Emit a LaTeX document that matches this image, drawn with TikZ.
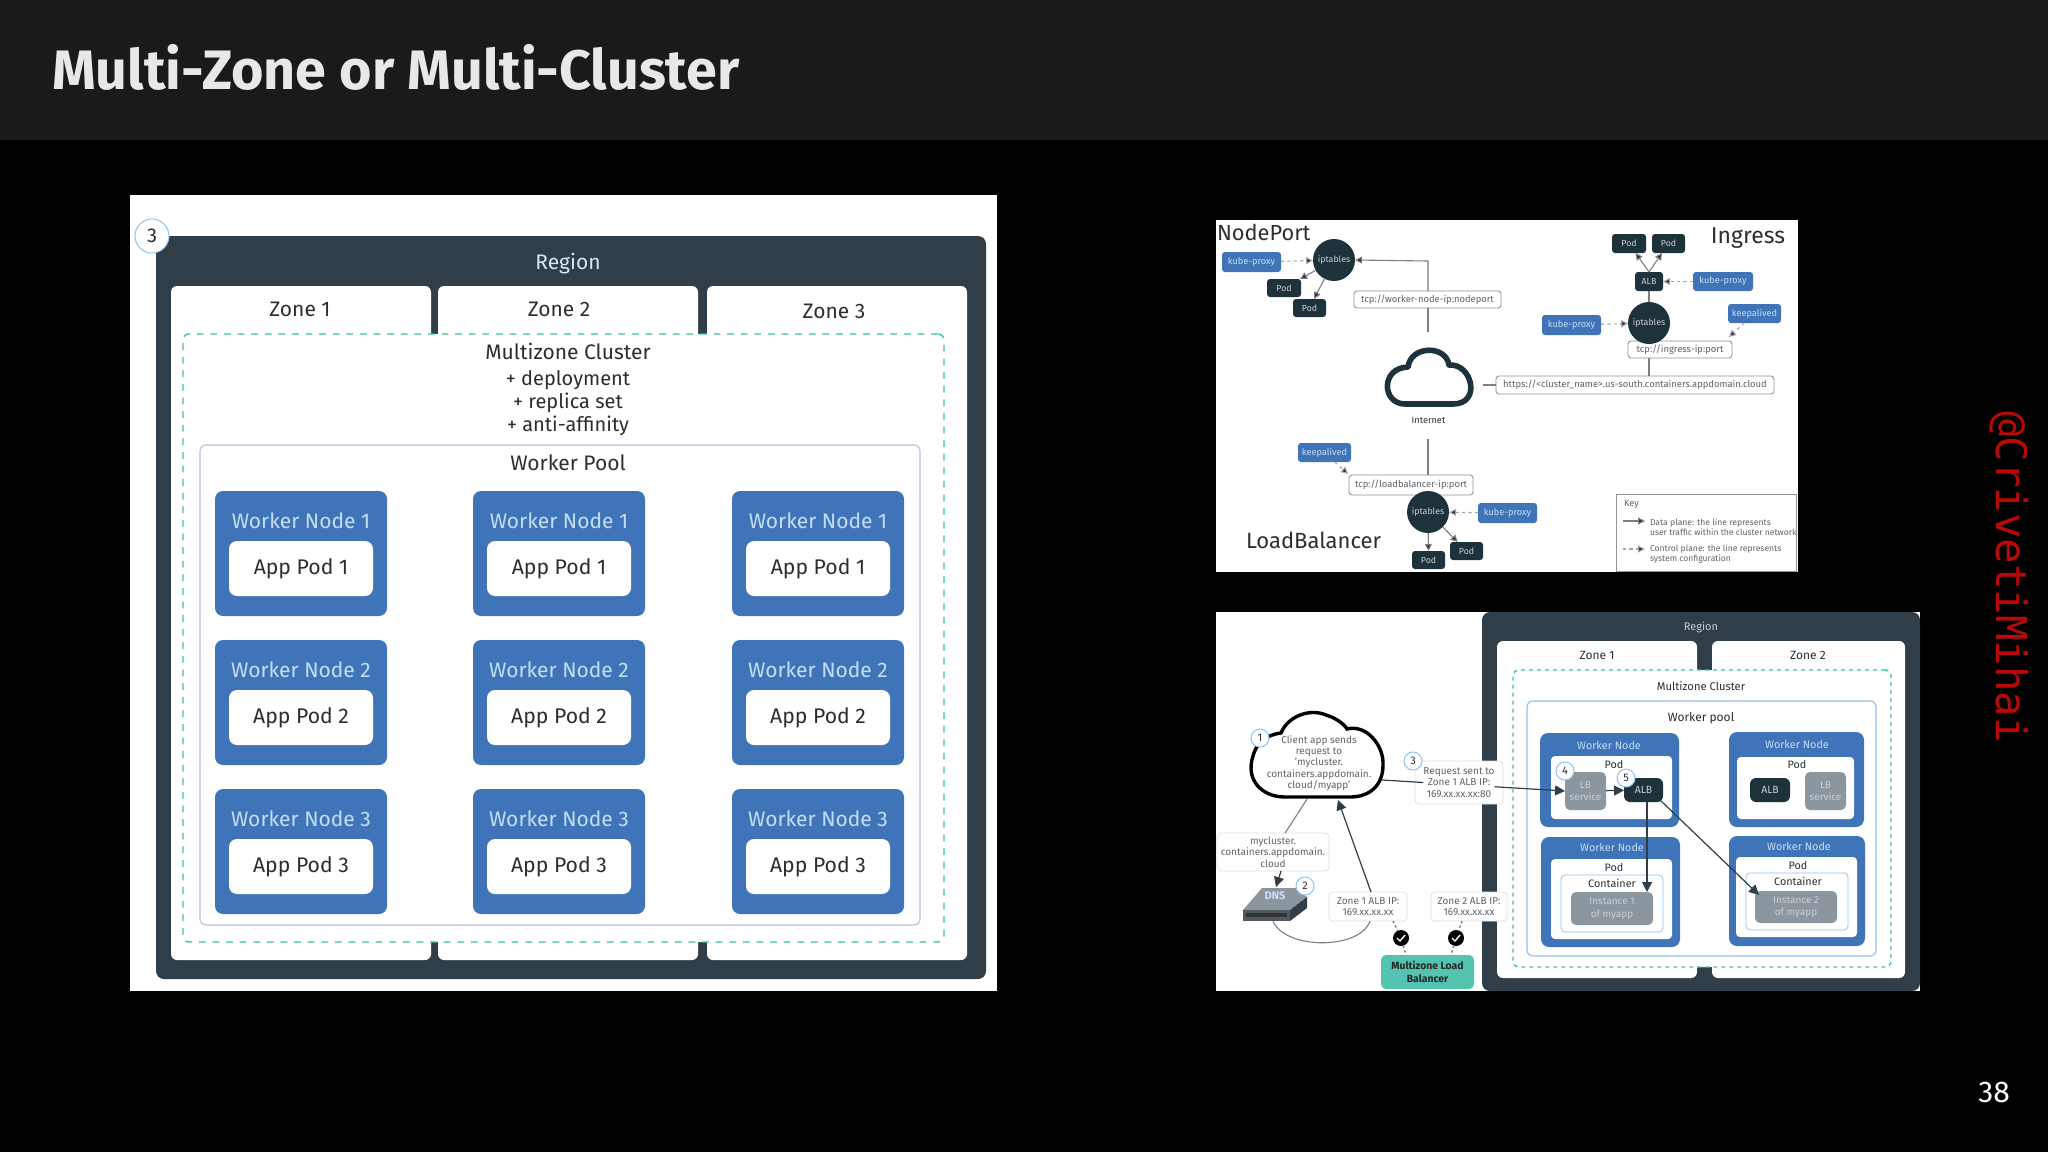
\documentclass[tikz,border=0pt]{standalone}
\usepackage{fontspec}
\setmainfont{Fira Sans}
\newfontfamily\wmfont{DejaVu Sans Mono}
\usetikzlibrary{arrows.meta}
\definecolor{regionc}{HTML}{2F3E48}
\definecolor{wnc}{HTML}{3F75B8}
\definecolor{wntext}{HTML}{C5DDF5}
\definecolor{inkc}{HTML}{2A2E33}
\definecolor{darkn}{HTML}{1E323C}
\definecolor{tealc}{HTML}{37C4A4}
\definecolor{lbfill}{HTML}{52C4B0}
\definecolor{poolc}{HTML}{BDBFE0}
\definecolor{lblue}{HTML}{8FC2F0}
\definecolor{greyb}{HTML}{8C969E}
\definecolor{linec}{HTML}{7A8085}
\definecolor{dimt}{HTML}{5E6468}
\definecolor{lbtext}{HTML}{C9CFD4}
\definecolor{headc}{HTML}{1A1A1A}
\definecolor{wmred}{HTML}{B80808}
\newcommand{\rn}[7][]{%
  \pgfmathsetmacro\cxv{(#3+#5)/2}\pgfmathsetmacro\cyv{(#4+#6)/2}%
  \pgfmathsetmacro\wdv{(#5-#3)*0.5}\pgfmathsetmacro\htv{(#6-#4)*0.5}%
  \node[#1,minimum width=\wdv pt,minimum height=\htv pt] (#2) at (\cxv,\cyv) {#7};}
\tikzset{
  base/.style={inner sep=0pt,outer sep=0pt,align=center},
  txt/.style={base,font=\fontsize{#1}{#1}\selectfont,text=inkc},
  txt/.default=10,
  panel/.style={base,fill=white},
  region/.style={base,fill=regionc,rounded corners=4pt},
  zone/.style={base,fill=white,rounded corners=3pt},
  cluster/.style={base,fill=white,draw=tealc,line width=0.7pt,dash pattern=on 3.4pt off 3.4pt,rounded corners=3pt},
  pool/.style={base,fill=white,draw=#1,line width=0.6pt,rounded corners=3pt},
  worker/.style={base,fill=wnc,rounded corners=4pt},
  podbox/.style={base,fill=white,rounded corners=4pt},
  wlabel/.style={base,font=\fontsize{#1}{#1}\selectfont,text=wntext},
  numc/.style={base,circle,fill=white,draw=lblue,line width=0.5pt,minimum size=#1,font=\fontsize{5.5}{5.5}\selectfont,text=inkc},
  kube/.style={base,fill=wnc,rounded corners=1.5pt,font=\fontsize{4.6}{4.6}\selectfont,text=wntext},
  dnode/.style={base,fill=darkn,rounded corners=1.5pt,font=\fontsize{4.4}{4.4}\selectfont,text=lbtext},
  iptab/.style={base,circle,fill=darkn,minimum size=21pt,font=\fontsize{4.4}{4.4}\selectfont,text=lbtext},
  tcpb/.style={base,fill=white,draw=greyb,line width=0.45pt,rounded corners=1.5pt,font=\fontsize{4.7}{4.7}\selectfont,text=dimt},
  hlabel/.style={base,font=\fontsize{#1}{#1}\selectfont,text=inkc},
  wire/.style={draw=linec,line width=0.55pt},
  arr/.style={wire,-{Triangle[length=3.5pt,width=3.5pt,fill=inkc]}},
  darr/.style={wire,draw=linec!70!white,dash pattern=on 1.6pt off 1.6pt,-{Triangle[length=3.5pt,width=3.5pt,fill=inkc]}},
  callout/.style={base,fill=white,draw=black!12,line width=0.4pt,rounded corners=2pt,font=\fontsize{5}{5.8}\selectfont,text=dimt},
  inst/.style={base,fill=greyb,rounded corners=2.5pt,font=\fontsize{5}{6.3}\selectfont,text=lbtext},
  bigarr/.style={draw=regionc,line width=0.6pt,-{Triangle[length=5pt,width=5pt,fill=regionc]}},
  dots/.style={draw=linec,line width=0.7pt,dash pattern=on 1.2pt off 1.2pt},
  chk/.style={base,circle,fill=black,minimum size=8pt},
}
\begin{document}
\begin{tikzpicture}[x=0.5pt,y=-0.5pt]
\useasboundingbox (0,0) rectangle (2048,1152);
\fill[black] (0,0) rectangle (2048,1152);
\fill[headc] (0,0) rectangle (2048,140);
\node[base,anchor=west,font=\fontsize{27.8}{27.8}\selectfont\bfseries,text=white!91!black] (title) at (52,67.5) {Multi-Zone or Multi-Cluster};
\node[base,font=\fontsize{15}{15}\selectfont,text=white] (pageno) at (1994,1092) {38};
\node[base,rotate=-90,font=\wmfont\fontsize{21.2}{21.2}\selectfont,text=wmred] (wm) at (2009,577) {@CrivetiMihai};

% ---------- left diagram
\rn[panel]{lpanel}{130}{195}{997}{991}{}
\rn[region]{lreg}{156}{236}{986}{979}{}
\rn[zone]{lz1}{171}{286}{431}{960}{}
\rn[zone]{lz2}{438}{286}{698}{960}{}
\rn[zone]{lz3}{707}{286}{967}{960}{}
\rn[cluster]{lclu}{183}{334}{944}{942}{}
\rn[pool=poolc]{lpool}{200}{445}{920}{925}{}
\node[base,circle,fill=white,draw=lblue,line width=0.5pt,minimum size=17pt,font=\fontsize{10}{10}\selectfont,text=inkc] (c3) at (152,236) {3};
\node[base,font=\fontsize{10.5}{10.5}\selectfont,text=wntext!70!white] (lregl) at (568,263.5) {Region};
\node[txt=10.5] (lz1l) at (300,309.5) {Zone 1};
\node[txt=10.5] (lz2l) at (559,309.5) {Zone 2};
\node[txt=10.5] (lz3l) at (834,311) {Zone 3};
\node[txt=10.5] (lclul) at (568,351) {Multizone Cluster};
\node[txt=10] (ld1) at (568,380.5) {+ deployment};
\node[txt=10] (ld2) at (568,402.5) {+ replica set};
\node[txt=10] (ld3) at (568,425.5) {+ anti-affinity};
\node[txt=10.5] (lpooll) at (568,463) {Worker Pool};
\foreach \c/\xa in {1/215,2/473,3/732}{
  \foreach \r/\ya in {1/491,2/640,3/789}{
    \pgfmathsetmacro\xb{\xa+172}\pgfmathsetmacro\yb{\ya+125}
    \pgfmathsetmacro\xp{\xa+14}\pgfmathsetmacro\xq{\xa+158}
    \pgfmathsetmacro\yp{\ya+50}\pgfmathsetmacro\yq{\ya+105}
    \pgfmathsetmacro\xm{\xa+86}\pgfmathsetmacro\yl{\ya+29.5}
    \rn[worker]{lw\c\r}{\xa}{\ya}{\xb}{\yb}{}
    \rn[podbox]{lp\c\r}{\xp}{\yp}{\xq}{\yq}{\raisebox{0.6pt}{\fontsize{10.6}{10.6}\selectfont\color{inkc}App Pod \r}}
    \node[wlabel=10.5] (lwl\c\r) at (\xm,\yl) {Worker Node \r};
  }
}

% ---------- top right diagram
\rn[panel]{tpanel}{1216}{220}{1798}{572}{}
\node[hlabel=10.9,anchor=west] (tnp) at (1217,232) {NodePort};
\node[hlabel=11.5,anchor=east] (ting) at (1785,238) {Ingress};
\node[hlabel=11,anchor=west] (tlb) at (1246,540) {LoadBalancer};
% cloud
\node[base] (inet) at (1428.5,420) {\fontsize{4.6}{4.6}\selectfont\color{inkc}Internet};
\draw[draw=darkn,line width=2.8pt,fill=white,line join=round] (1405,404)
  .. controls (1382,404) and (1380,368) .. (1408,367)
  .. controls (1411,345) and (1446,345) .. (1449,365)
  .. controls (1472,363) and (1482,404) .. (1453,404) -- cycle;
\coordinate (cldt) at (1428,332);
\coordinate (cldr) at (1483,385);
\coordinate (cldb) at (1428,439);
% boxes
\rn[tcpb]{tb1}{1354}{291}{1501}{308}{tcp://worker-node-ip:nodeport}
\rn[tcpb]{tb3}{1496}{376}{1774}{394}{https://<cluster\_name>.us-south.containers.appdomain.cloud}
\rn[tcpb]{tb2}{1628}{341}{1732}{358}{tcp://ingress-ip:port}
\rn[tcpb]{tb4}{1349}{475}{1473}{495}{tcp://loadbalancer-ip:port}
% NodePort
\rn[kube]{ka}{1222}{252}{1281}{272}{kube-proxy}
\node[iptab] (ia) at (1334,260) {iptables};
\rn[dnode]{pa1}{1267}{279}{1301}{297}{Pod}
\rn[dnode]{pa2}{1293}{299}{1326}{317}{Pod}
\draw[darr] (ka) -- (ia);
\draw[arr] (ia) -- (pa1);
\draw[arr] (ia) -- (pa2);
\coordinate (tb1up) at (1428,261);
\draw[wire] (cldt) -- (tb1.south -| cldt);
\draw[arr] (tb1.north -| cldt) -- (tb1up) -- (ia.east);
% Ingress
\rn[kube]{kb}{1542}{315}{1601}{335}{kube-proxy}
\rn[kube]{kc}{1693}{272}{1753}{291}{kube-proxy}
\rn[kube]{keb}{1728}{304}{1781}{323}{keepalived}
\rn[dnode]{alb}{1635}{272}{1663}{291}{ALB}
\rn[dnode]{pb1}{1612}{234}{1646}{253}{Pod}
\rn[dnode]{pb2}{1652}{234}{1685}{253}{Pod}
\coordinate (ttop) at (1649,376);
\draw[wire] (cldr) -- (tb3);
\draw[wire] (tb3.north -| ttop) -- (tb2.south -| ttop);
\draw[wire] (alb) -- (1649,323);
\node[iptab] (ib) at (1649,323) {iptables};
\draw[darr] (kb) -- (ib);
\draw[darr] (kc) -- (alb);
\coordinate (kebto) at (1729,337);
\draw[darr] (keb) -- (kebto);
\draw[arr] (alb.north) -- (pb1);
\draw[arr] (alb.north) -- (pb2);
% LoadBalancer
\rn[kube]{ked}{1298}{443}{1351}{462}{keepalived}
\rn[kube]{kd}{1478}{503}{1537}{523}{kube-proxy}
\node[iptab] (ic) at (1428,512) {iptables};
\rn[dnode]{pl1}{1412}{551}{1445}{569}{Pod}
\rn[dnode]{pl2}{1450}{542}{1483}{560}{Pod}
\draw[wire] (cldb) -- (tb4.north -| cldb);
\coordinate (kedto) at (1348,474);
\draw[darr] (ked) -- (kedto);
\draw[darr] (kd) -- (ic);
\draw[arr] (ic) -- (pl1);
\draw[arr] (ic) -- (pl2);
% key
\rn[base,fill=white,draw=greyb,line width=0.5pt]{keyb}{1616}{494}{1796}{571}{}
\node[base,anchor=west,font=\fontsize{4.6}{4.6}\selectfont,text=dimt] (keyt) at (1624,504) {Key};
\coordinate (k1a) at (1623,521);\coordinate (k1b) at (1645,521);
\coordinate (k2a) at (1623,549);\coordinate (k2b) at (1645,549);
\draw[arr] (k1a) -- (k1b);
\draw[darr] (k2a) -- (k2b);
\node[base,anchor=west,align=left,font=\fontsize{4.3}{5}\selectfont,text=dimt] (k1t) at (1650,527) {Data plane: the line represents\\user traffic within the cluster network};
\node[base,anchor=west,align=left,font=\fontsize{4.3}{5}\selectfont,text=dimt] (k2t) at (1650,554) {Control plane: the line represents\\system configuration};

% ---------- bottom right diagram
\rn[panel]{bpanel}{1216}{612}{1920}{991}{}
\rn[region]{breg}{1482}{612}{1920}{991}{}
\rn[zone]{bz1}{1497}{641}{1697}{978}{}
\rn[zone]{bz2}{1712}{641}{1905}{978}{}
\rn[cluster,dash pattern=on 2pt off 2pt]{bclu}{1513}{670}{1891}{967}{}
\rn[pool=lblue]{bpool}{1527}{701}{1876}{956}{}
\node[base,font=\fontsize{5.5}{5.5}\selectfont,text=lbtext] (bregl) at (1701,627) {Region};
\node[txt=6] (bz1l) at (1597,655) {Zone 1};
\node[txt=6] (bz2l) at (1808,655) {Zone 2};
\node[txt=5.6] (bclul) at (1701,686) {Multizone Cluster};
\node[txt=6] (bpooll) at (1701,718) {Worker pool};
\rn[worker]{bw1}{1540}{733}{1679}{827}{}
\rn[worker]{bw2}{1729}{732}{1864}{827}{}
\rn[worker]{bw3}{1541}{837}{1680}{947}{}
\rn[worker]{bw4}{1729}{836}{1865}{946}{}
\rn[podbox,rounded corners=2pt]{bp1}{1551}{756}{1672}{819}{}
\rn[podbox,rounded corners=2pt]{bp2}{1737}{757}{1854}{819}{}
\rn[podbox,rounded corners=2pt]{bp3}{1551}{859}{1672}{939}{}
\rn[podbox,rounded corners=2pt]{bp4}{1736}{857}{1857}{937}{}
\node[wlabel=5.4] (bwl1) at (1609,745) {Worker Node};
\node[wlabel=5.4] (bwl2) at (1797,744) {Worker Node};
\node[wlabel=5.4] (bwl3) at (1612,847) {Worker Node};
\node[wlabel=5.4] (bwl4) at (1799,846) {Worker Node};
\node[txt=5.4] (bpl1) at (1614,764) {Pod};
\node[txt=5.4] (bpl2) at (1797,764) {Pod};
\node[txt=5.4] (bpl3) at (1614,867) {Pod};
\node[txt=5.4] (bpl4) at (1798,865) {Pod};
\rn[pool=lblue,line width=0.4pt,rounded corners=2pt]{bc3}{1561}{875}{1663}{932}{}
\rn[pool=lblue,line width=0.4pt,rounded corners=2pt]{bc4}{1746}{873}{1848}{930}{}
\node[txt=5.4] (bcl3) at (1612,883) {Container};
\node[txt=5.4] (bcl4) at (1798,881) {Container};
\rn[inst]{bi1}{1571}{892}{1653}{925}{Instance 1\\of myapp}
\rn[inst]{bi2}{1755}{891}{1837}{923}{Instance 2\\of myapp}
\rn[inst]{blb1}{1565}{772}{1606}{810}{LB\\service}
\rn[inst]{blb2}{1805}{772}{1846}{810}{LB\\service}
\rn[base,fill=darkn,rounded corners=3pt,font=\fontsize{5.2}{5.2}\selectfont,text=lbtext]{balb1}{1624}{778}{1663}{802}{ALB}
\rn[base,fill=darkn,rounded corners=3pt,font=\fontsize{5.2}{5.2}\selectfont,text=lbtext]{balb2}{1750}{778}{1790}{802}{ALB}
% client cloud
\draw[draw=black,line width=1.7pt,fill=white] (1285,797)
  .. controls (1262,797) and (1245,780) .. (1253,756)
  .. controls (1256,744) and (1265,735) .. (1281,733)
  .. controls (1288,716) and (1310,708) .. (1326,715)
  .. controls (1336,718) and (1344,724) .. (1347,729)
  .. controls (1366,724) and (1384,745) .. (1383,765)
  .. controls (1383,785) and (1370,797) .. (1350,797) -- cycle;
\node[base,font=\fontsize{5}{5.65}\selectfont,text=dimt] (cloudt) at (1319,763) {Client app sends\\request to\\'mycluster.\\containers.appdomain.\\cloud/myapp'};
\coordinate (cldout) at (1382,780);
\coordinate (cldin) at (1338,800);
\coordinate (clddn) at (1307,799);
% DNS
\fill[greyb] (1243,910) -- (1262,888) -- (1297,888) -- (1307,897) -- (1290,910) -- cycle;
\fill[regionc!85!white] (1243,910) -- (1290,910) -- (1290,921) -- (1243,921) -- cycle;
\fill[regionc] (1290,910) -- (1307,897) -- (1307,908) -- (1290,921) -- cycle;
\fill[black!80] (1246,913) rectangle (1287,917);
\node[base,font=\fontsize{5.5}{5.5}\selectfont\bfseries,text=white!85!blue] (dnst) at (1275,896) {DNS};
\coordinate (dnstop) at (1276,887);
\coordinate (dnsbot) at (1273,921);
% labels and links
\rn[callout]{breq}{1415}{761}{1503}{804}{}
\rn[callout]{bmyc}{1217}{833}{1329}{871}{mycluster.\\containers.appdomain.\\cloud}
\rn[callout]{bz1ip}{1329}{892}{1407}{921}{Zone 1 ALB IP:\\169.xx.xx.xx}
\rn[callout]{bz2ip}{1431}{892}{1507}{921}{Zone 2 ALB IP:\\169.xx.xx.xx}
\rn[base,fill=lbfill,rounded corners=2.5pt,font=\fontsize{5.2}{6.4}\selectfont\bfseries,text=black!85]{blb}{1381}{955}{1474}{989}{Multizone Load\\Balancer}
\draw[bigarr] (cldout) -- (blb1.west);
\node[callout,draw=none,fill=white] (breqt) at (1459,782.5) {Request sent to\\Zone 1 ALB IP:\\169.xx.xx.xx:80};
\draw[bigarr] (blb1) -- (balb1);
\coordinate (alb1b) at (1647,802);
\coordinate (inst1t) at (1647,892);
\draw[bigarr] (alb1b) -- (inst1t);
\coordinate (alb1r) at (1660,800);
\coordinate (inst2t) at (1759,895);
\draw[bigarr] (alb1r) -- (inst2t);
\draw[wire] (clddn) -- (bmyc);
\draw[bigarr] (1281,871) -- (dnstop);
\draw[bigarr] (1371,892) -- (cldin);
\draw[wire] (dnsbot) .. controls (1285,950) and (1360,950) .. (1370,921);
\node[chk] (ck1) at (1401,938) {};
\node[chk] (ck2) at (1456,938) {};
\draw[white,line width=0.7pt] (1397,938) -- (1400,941) -- (1405,935);
\draw[white,line width=0.7pt] (1452,938) -- (1455,941) -- (1460,935);
\draw[dots] (1393,921) -- (ck1);
\draw[dots] (ck1) -- (1406,955);
\draw[dots] (1462,921) -- (ck2);
\draw[dots] (ck2) -- (1451,955);
\node[numc=9pt] (n1) at (1260,738) {1};
\node[numc=9pt] (n2) at (1305,886) {2};
\node[numc=9pt] (n3) at (1413,761) {3};
\node[numc=9pt] (n4) at (1565,771) {4};
\node[numc=9pt] (n5) at (1626,778) {5};
\end{tikzpicture}
\end{document}
